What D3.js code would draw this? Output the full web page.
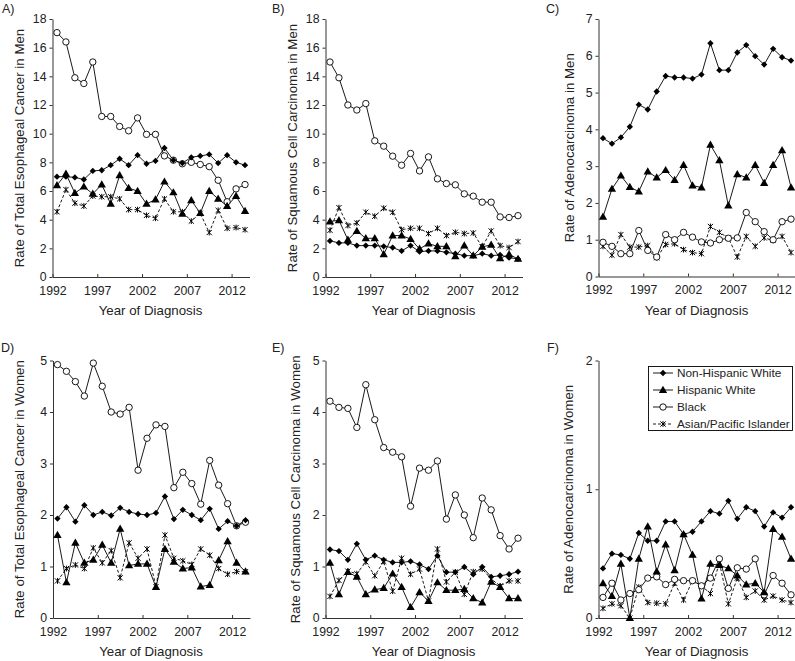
<!DOCTYPE html>
<html><head><meta charset="utf-8">
<script src="https://cdn.jsdelivr.net/npm/d3@7"></script>
<style>
body{margin:0;background:#fff;}
svg{display:block;font-family:"Liberation Sans",Arial,sans-serif;}
</style></head>
<body><svg id="chart" width="795" height="661"></svg>
<script>
const years = [1992,1993,1994,1995,1996,1997,1998,1999,2000,2001,2002,2003,2004,2005,2006,2007,2008,2009,2010,2011,2012,2013];
const xTickLabels = [1992,1997,2002,2007,2012];
const seriesNames = ["Non-Hispanic White","Hispanic White","Black","Asian/Pacific Islander"];

// A) Total esophageal cancer, men
const totalMenNHW   = [7.0,7.0,6.95,6.8,7.4,7.45,7.8,8.25,7.8,8.5,7.9,8.1,9.0,8.15,7.95,8.35,8.45,8.55,7.95,8.5,8.0,7.8];
const totalMenHW    = [6.4,7.2,5.85,6.3,5.8,6.45,5.1,7.1,6.2,6.0,5.1,5.4,6.65,5.9,4.4,5.35,4.45,6.0,5.45,4.95,5.65,4.6];
const totalMenBlack = [17.05,16.4,13.9,13.5,15.0,11.2,11.2,10.5,10.2,11.1,9.95,9.95,8.45,8.15,7.9,8.0,7.85,7.7,6.75,5.25,6.15,6.45];
const totalMenAPI   = [4.55,6.1,5.15,4.95,5.65,5.6,5.6,5.45,4.7,4.7,4.3,4.1,5.45,4.55,4.55,3.9,4.45,3.1,4.65,3.4,3.45,3.3];
// B) Squamous cell carcinoma, men
const sccMenNHW   = [2.52,2.38,2.38,2.19,2.19,2.19,2.14,2.05,1.82,2.19,1.77,1.82,1.82,1.72,1.63,1.49,1.49,1.63,1.49,1.54,1.35,1.26];
const sccMenHW    = [3.87,3.96,2.6,3.21,2.7,2.7,1.58,2.89,2.89,2.65,1.96,2.33,2.14,2.14,1.44,2.19,1.49,2.1,2.24,1.3,1.58,1.26];
const sccMenBlack = [15.0,13.9,12.0,11.65,12.1,9.5,9.13,8.43,7.8,8.62,7.4,8.38,6.85,6.52,6.43,5.8,5.64,5.22,5.22,4.19,4.15,4.28];
const sccMenAPI   = [3.26,4.84,3.59,3.77,4.52,4.24,4.8,4.52,3.3,3.4,3.4,3.03,3.4,2.89,3.12,3.03,3.07,2.1,3.21,2.19,2.05,2.47];
// C) Adenocarcinoma, men
const adeMenNHW   = [3.76,3.61,3.78,4.07,4.67,4.54,5.03,5.45,5.41,5.41,5.38,5.49,6.34,5.61,5.61,6.09,6.29,5.99,5.76,6.19,5.96,5.87];
const adeMenHW    = [1.62,2.38,2.74,2.43,2.31,2.85,2.69,2.89,2.62,3.03,2.47,2.42,3.58,3.16,1.93,2.78,2.69,3.03,2.54,3.03,3.43,2.42];
const adeMenBlack = [0.93,0.82,0.62,0.62,1.25,0.71,0.53,1.14,1.0,1.2,1.07,0.94,0.91,1.0,1.04,1.05,1.74,1.49,1.22,1.0,1.49,1.56];
const adeMenAPI   = [0.82,0.58,1.14,0.8,0.8,0.84,0.51,0.87,0.89,0.73,0.65,0.62,1.36,1.2,1.05,0.53,1.09,0.82,1.05,0.98,1.09,0.65];
// D) Total esophageal cancer, women
const totalWomenNHW   = [1.93,2.15,1.87,2.19,2.0,2.06,1.99,2.14,2.06,2.02,2.0,2.04,2.36,1.92,2.1,2.0,1.9,2.12,1.73,1.88,1.79,1.9];
const totalWomenHW    = [1.61,0.69,1.46,1.07,1.13,1.42,1.07,1.73,1.02,1.05,1.05,0.6,1.34,1.09,0.96,0.98,0.61,0.64,1.12,1.49,1.07,0.9];
const totalWomenBlack = [4.92,4.79,4.59,4.31,4.95,4.5,4.0,3.96,4.09,2.87,3.49,3.75,3.72,2.53,2.83,2.61,2.21,3.06,2.58,2.22,1.79,1.86];
const totalWomenAPI   = [0.72,0.96,1.03,0.96,1.36,1.07,1.31,0.78,1.46,1.16,1.34,0.61,1.61,1.16,1.11,1.04,1.34,1.22,0.96,0.85,0.9,0.9];
// E) Squamous cell carcinoma, women
const sccWomenNHW   = [1.33,1.3,1.13,1.44,1.13,1.21,1.13,1.08,1.08,1.1,1.04,0.95,1.21,0.89,0.89,0.99,0.85,0.99,0.8,0.82,0.85,0.9];
const sccWomenHW    = [1.07,0.46,0.89,0.8,0.46,0.55,0.58,0.86,0.6,0.21,0.5,0.33,0.69,0.54,0.54,0.56,0.38,0.3,0.7,0.6,0.38,0.38];
const sccWomenBlack = [4.21,4.09,4.07,3.7,4.53,3.85,3.31,3.22,3.13,2.17,2.91,2.87,3.05,1.92,2.39,2.0,1.56,2.33,2.1,1.6,1.34,1.55];
const sccWomenAPI   = [0.42,0.73,0.91,0.86,1.09,0.82,1.1,0.52,1.16,0.85,0.95,0.33,1.34,0.7,0.89,0.46,0.9,0.95,0.76,0.62,0.72,0.72];
// F) Adenocarcinoma, women
const adeWomenNHW   = [0.385,0.5,0.49,0.46,0.66,0.6,0.6,0.75,0.75,0.65,0.67,0.75,0.83,0.81,0.91,0.77,0.86,0.83,0.71,0.82,0.78,0.86];
const adeWomenHW    = [0.27,0.17,0.42,0.0,0.46,0.71,0.36,0.57,0.37,0.65,0.49,0.15,0.42,0.41,0.385,0.33,0.26,0.27,0.2,0.69,0.63,0.46];
const adeWomenBlack = [0.16,0.27,0.14,0.19,0.22,0.31,0.32,0.26,0.3,0.29,0.29,0.25,0.31,0.46,0.23,0.39,0.38,0.46,0.18,0.33,0.27,0.18];
const adeWomenAPI   = [0.075,0.11,0.095,0.0,0.24,0.12,0.115,0.11,0.27,0.14,0.29,0.25,0.19,0.43,0.11,0.31,0.16,0.21,0.14,0.17,0.14,0.12];

const yMaxes = [18,18,7,5,5,2];
const yTickSets = [[0,2,4,6,8,10,12,14,16,18],[0,2,4,6,8,10,12,14,16,18],[0,1,2,3,4,5,6,7],[0,1,2,3,4,5],[0,1,2,3,4,5],[0,1,2]];
const panelLetters = ["A)","B)","C)","D)","E)","F)"];
const yTitles = ["Rate of Total Esophageal Cancer in Men","Rate of Squamous Cell Carcinoma in Men","Rate of Adenocarcinoma in Men",
                 "Rate of Total Esophageal Cancer in Women","Rate of Squamous Cell Carcinoma in Women","Rate of Adenocarcinoma in Women"];
const xTitle = "Year of Diagnosis";
const panelData = [
  [totalMenNHW,totalMenHW,totalMenBlack,totalMenAPI],
  [sccMenNHW,sccMenHW,sccMenBlack,sccMenAPI],
  [adeMenNHW,adeMenHW,adeMenBlack,adeMenAPI],
  [totalWomenNHW,totalWomenHW,totalWomenBlack,totalWomenAPI],
  [sccWomenNHW,sccWomenHW,sccWomenBlack,sccWomenAPI],
  [adeWomenNHW,adeWomenHW,adeWomenBlack,adeWomenAPI]
];

// layout
const layout = [
  {x0:52.5, top:19, bottom:277, lx:2, ly:13, tx:24},
  {x0:325.5, top:19, bottom:277, lx:272, ly:13, tx:297},
  {x0:598.5, top:19, bottom:276.5, lx:546, ly:13, tx:574},
  {x0:53, top:360.5, bottom:618, lx:1, ly:352, tx:24},
  {x0:325.5, top:360.5, bottom:618, lx:272, ly:352, tx:300},
  {x0:598.5, top:360.5, bottom:618, lx:547, ly:352, tx:573}
];
const plotW = 197;
const textColor = "#222";

const svg = d3.select("#chart");
const symTriangle = d3.symbol().type(d3.symbolTriangle).size(30);

function drawMarker(g, kind, cx, cy){
  if(kind===0){
    g.append("path").attr("d", d3.symbol().type(d3.symbolSquare).size(20)())
      .attr("transform",`translate(${cx},${cy}) rotate(45)`).attr("fill","#000");
  } else if(kind===1){
    g.append("path").attr("d", symTriangle()).attr("transform",`translate(${cx},${cy+0.5})`).attr("fill","#000");
  } else if(kind===2){
    g.append("circle").attr("cx",cx).attr("cy",cy).attr("r",3.2).attr("fill","#fff").attr("stroke","#000").attr("stroke-width",0.9);
  } else {
    const s=2.6;
    g.append("path").attr("d",`M${cx-s},${cy-s}L${cx+s},${cy+s}M${cx-s},${cy+s}L${cx+s},${cy-s}M${cx},${cy-s-0.3}L${cx},${cy+s+0.3}`)
      .attr("stroke","#000").attr("stroke-width",1).attr("fill","none");
  }
}

panelData.forEach((series, pi) => {
  const L = layout[pi];
  const x = d3.scaleLinear().domain([1992, 2014]).range([L.x0, L.x0 + plotW]);
  const y = d3.scaleLinear().domain([0, yMaxes[pi]]).range([L.bottom, L.top]);
  const g = svg.append("g");

  const xAxis = d3.axisBottom(x).tickValues(xTickLabels).tickFormat(d3.format("d")).tickSizeInner(-3).tickSizeOuter(0).tickPadding(9);
  const gx = g.append("g").attr("transform",`translate(0,${L.bottom})`).call(xAxis);
  const yAxis = d3.axisLeft(y).tickValues(yTickSets[pi]).tickFormat(d3.format("d")).tickSizeInner(3).tickSizeOuter(0).tickPadding(3);
  const gy = g.append("g").attr("transform",`translate(${L.x0},0)`).call(yAxis);
  gy.selectAll(".tick text").attr("dy","0.3em");
  [gx,gy].forEach(a=>{
    a.select(".domain").attr("stroke","#333");
    a.selectAll(".tick line").attr("stroke","#333");
    a.selectAll("text").attr("fill",textColor).style("font-size","12.3px").style("font-family","'Liberation Sans',Arial,sans-serif");
  });

  g.append("text").attr("x",L.lx).attr("y",L.ly).text(panelLetters[pi]).attr("fill",textColor).style("font-size","12.5px");
  g.append("text").attr("transform",`translate(${L.tx},${(L.top+L.bottom)/2}) rotate(-90)`).attr("text-anchor","middle")
    .text(yTitles[pi]).attr("fill",textColor).style("font-size","13.3px");
  g.append("text").attr("x",L.x0 + 98).attr("y",L.bottom + 38).attr("text-anchor","middle")
    .text(xTitle).attr("fill",textColor).style("font-size","13.3px");

  const order = [3,2,1,0];
  order.forEach(si => {
    const line = d3.line().x((d,i)=>x(years[i]+0.5)).y(d=>y(d));
    g.append("path").datum(series[si]).attr("d",line).attr("fill","none").attr("stroke","#000")
      .attr("stroke-width",0.9).attr("stroke-dasharray", si===3 ? "3,2" : null);
  });
  order.forEach(si => {
    series[si].forEach((v,i)=> drawMarker(g, si, x(years[i]+0.5), y(v)));
  });
});

// legend in panel F
const lg = svg.append("g");
lg.append("rect").attr("x",648.5).attr("y",366.5).attr("width",144).attr("height",64).attr("fill","#fff").attr("stroke","#000").attr("stroke-width",0.9);
seriesNames.forEach((name, i) => {
  const cy = 373 + i*17;
  lg.append("line").attr("x1",653).attr("x2",673).attr("y1",cy).attr("y2",cy).attr("stroke","#000").attr("stroke-width",0.9)
    .attr("stroke-dasharray", i===3 ? "3,2" : null);
  drawMarker(lg, i, 663, cy);
  lg.append("text").attr("x",677).attr("y",cy+4).text(name).attr("fill",textColor).style("font-size","11.8px");
});
</script></body></html>
